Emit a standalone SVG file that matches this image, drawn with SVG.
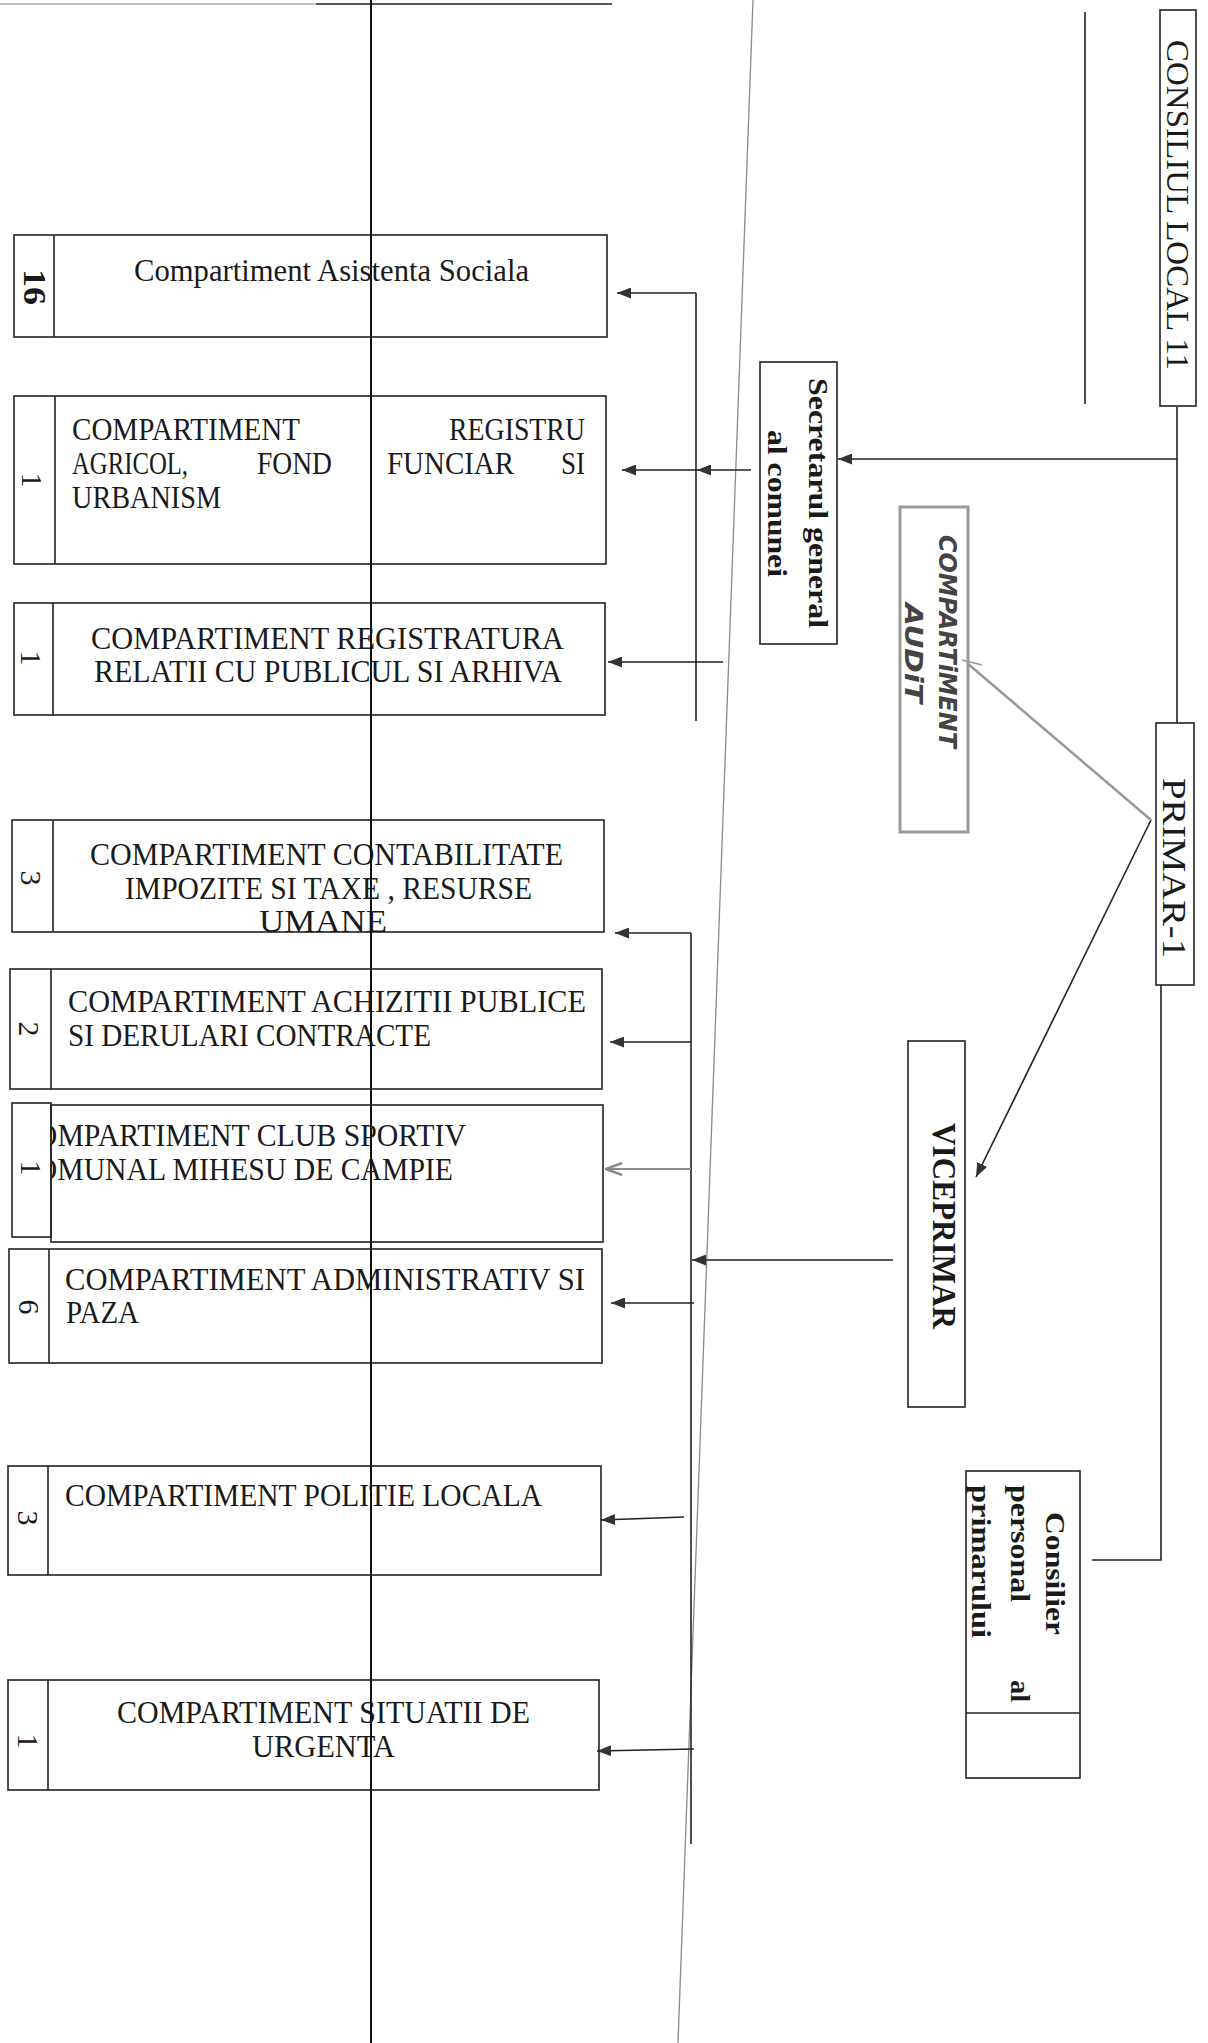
<svg xmlns="http://www.w3.org/2000/svg" width="1208" height="2043" viewBox="0 0 1208 2043">
<defs>
<style>
.box{fill:none;stroke:#222;stroke-width:1.6}
.ln{fill:none;stroke:#222;stroke-width:1.6}
.ht{font-family:"Liberation Serif","Times New Roman",serif;font-size:32px;fill:#1a1a1a}
.num{font-family:"Liberation Serif","Times New Roman",serif;font-size:30px;fill:#1a1a1a;text-anchor:middle}
.rt{font-family:"Liberation Serif","Times New Roman",serif;fill:#1a1a1a}
.rb{font-family:"Liberation Serif","Times New Roman",serif;font-weight:bold;fill:#1a1a1a}
.hand{font-family:"DejaVu Sans",sans-serif;font-weight:bold;font-style:italic;font-size:24px;fill:#444}
</style>
<marker id="ah" viewBox="0 0 14 11" refX="14" refY="5.5" markerWidth="14" markerHeight="11" orient="auto" markerUnits="userSpaceOnUse"><path d="M0,0 L14,5.5 L0,11 z" fill="#333"/></marker>
<marker id="ahg" viewBox="0 0 18 14" refX="17" refY="7" markerWidth="18" markerHeight="14" orient="auto" markerUnits="userSpaceOnUse"><path d="M1,1 L17,7 L1,13" fill="none" stroke="#8a8a8a" stroke-width="2.5"/></marker>
<clipPath id="clip6"><rect x="52" y="1105" width="551" height="137"/></clipPath>
</defs>
<rect width="1208" height="2043" fill="#fff"/>

<g id="background-lines">
<path d="M0,4 H316" stroke="#aaa" stroke-width="1.5" fill="none"/>
<path d="M316,4 H612" stroke="#222" stroke-width="1.6" fill="none"/>
<path d="M753,0 L678,2043" stroke="#8a8a8a" stroke-width="1.3" fill="none"/>
</g>

<g id="connectors">
<path class="ln" d="M1085,12 V404"/>
<path class="ln" d="M1177,407 V723"/>
<path class="ln" d="M1177,459 H838" marker-end="url(#ah)"/>
<path class="ln" d="M1161,985 V1560 H1092"/>
<path class="ln" d="M1151,820 L976,1177" marker-end="url(#ah)"/>
<path d="M1151,820 L967,663" stroke="#999" stroke-width="2.5" fill="none"/>
<path d="M962,660 L982,665" stroke="#999" stroke-width="1.5" fill="none"/>
<path class="ln" d="M893,1260 H692" marker-end="url(#ah)"/>
<path class="ln" d="M691,933 V1844"/>
<path class="ln" d="M691,933 H615" marker-end="url(#ah)"/>
<path class="ln" d="M691,1042 H610" marker-end="url(#ah)"/>
<path d="M691,1169 H606" stroke="#8a8a8a" stroke-width="2.2" fill="none" marker-end="url(#ahg)"/>
<path class="ln" d="M694,1303 H611" marker-end="url(#ah)"/>
<path class="ln" d="M684,1517 L601,1520" marker-end="url(#ah)"/>
<path class="ln" d="M694,1749 L597,1751" marker-end="url(#ah)"/>
<path class="ln" d="M696,293 V721"/>
<path class="ln" d="M696,293 H617" marker-end="url(#ah)"/>
<path class="ln" d="M751,470 H697" marker-end="url(#ah)"/>
<path class="ln" d="M697,470 H622" marker-end="url(#ah)"/>
<path class="ln" d="M723,662 H608" marker-end="url(#ah)"/>
</g>

<g id="consiliul-local">
<rect class="box" x="1160" y="10" width="36" height="396"/>
<text class="rt" font-size="31" transform="translate(1167,40) rotate(90)" textLength="330" lengthAdjust="spacingAndGlyphs">CONSILIUL LOCAL 11</text>
</g>

<g id="secretar">
<rect class="box" x="760" y="362" width="77" height="282"/>
<text class="rb" font-size="28" transform="translate(809,378) rotate(90)" textLength="250" lengthAdjust="spacingAndGlyphs">Secretarul general</text>
<text class="rb" font-size="28" transform="translate(768,430) rotate(90)" textLength="147" lengthAdjust="spacingAndGlyphs">al comunei</text>
</g>

<g id="audit">
<rect x="900" y="507" width="68" height="325" fill="none" stroke="#9a9a9a" stroke-width="3"/>
<text class="hand" transform="translate(939,535) rotate(90)" textLength="213" lengthAdjust="spacingAndGlyphs">COMPARTiMENT</text>
<text class="hand" transform="translate(905,603) rotate(90)" textLength="100" lengthAdjust="spacingAndGlyphs">AUDiT</text>
</g>

<g id="primar">
<rect class="box" x="1156" y="723" width="38" height="262"/>
<text class="rt" font-size="33" transform="translate(1163,778) rotate(90)" textLength="180" lengthAdjust="spacingAndGlyphs">PRIMAR-1</text>
</g>

<g id="viceprimar">
<rect class="box" x="908" y="1041" width="57" height="366"/>
<text class="rb" font-size="34" transform="translate(933,1123) rotate(90)" textLength="206" lengthAdjust="spacingAndGlyphs">VICEPRIMAR</text>
</g>

<g id="consilier">
<rect class="box" x="966" y="1471" width="114" height="307"/>
<path class="ln" d="M966,1713 H1080"/>
<text class="rb" font-size="27" transform="translate(1046,1512) rotate(90)" textLength="123" lengthAdjust="spacingAndGlyphs">Consilier</text>
<text class="rb" font-size="27" transform="translate(1011,1485) rotate(90)" textLength="117" lengthAdjust="spacingAndGlyphs">personal</text>
<text class="rb" font-size="27" transform="translate(1011,1680) rotate(90)" textLength="22" lengthAdjust="spacingAndGlyphs">al</text>
<text class="rb" font-size="27" transform="translate(972,1485) rotate(90)" textLength="153" lengthAdjust="spacingAndGlyphs">primarului</text>
</g>

<g id="asistenta-sociala">
<rect class="box" x="14" y="235" width="593" height="102"/>
<path class="ln" d="M54,235 V337"/>
<text class="ht" x="134" y="281" textLength="395" lengthAdjust="spacingAndGlyphs">Compartiment  Asistenta  Sociala</text>
<text class="rb" font-size="31" text-anchor="middle" transform="translate(24,287) rotate(90)" textLength="36" lengthAdjust="spacingAndGlyphs">16</text>
</g>

<g id="registru-agricol">
<rect class="box" x="14" y="396" width="592" height="168"/>
<path class="ln" d="M55,396 V564"/>
<text class="ht" x="72" y="440" textLength="228" lengthAdjust="spacingAndGlyphs">COMPARTIMENT</text>
<text class="ht" x="585" y="440" text-anchor="end" textLength="136" lengthAdjust="spacingAndGlyphs">REGISTRU</text>
<text class="ht" x="72" y="474" textLength="116" lengthAdjust="spacingAndGlyphs">AGRICOL,</text>
<text class="ht" x="257" y="474" textLength="75" lengthAdjust="spacingAndGlyphs">FOND</text>
<text class="ht" x="387" y="474" textLength="127" lengthAdjust="spacingAndGlyphs">FUNCIAR</text>
<text class="ht" x="561" y="474" textLength="24" lengthAdjust="spacingAndGlyphs">SI</text>
<text class="ht" x="72" y="508" textLength="149" lengthAdjust="spacingAndGlyphs">URBANISM</text>
<text class="num" transform="translate(22,480) rotate(90)">1</text>
</g>

<g id="registratura">
<rect class="box" x="14" y="603" width="591" height="112"/>
<path class="ln" d="M53,603 V715"/>
<text class="ht" x="91" y="649" textLength="473" lengthAdjust="spacingAndGlyphs">COMPARTIMENT  REGISTRATURA</text>
<text class="ht" x="94" y="682" textLength="468" lengthAdjust="spacingAndGlyphs">RELATII CU PUBLICUL SI ARHIVA</text>
<text class="num" transform="translate(21,658) rotate(90)">1</text>
</g>

<g id="contabilitate">
<rect class="box" x="12" y="820" width="592" height="112"/>
<path class="ln" d="M53,820 V932"/>
<text class="ht" x="90" y="865" textLength="473" lengthAdjust="spacingAndGlyphs">COMPARTIMENT CONTABILITATE</text>
<text class="ht" x="125" y="899" textLength="407" lengthAdjust="spacingAndGlyphs">IMPOZITE SI TAXE , RESURSE</text>
<text class="ht" x="259" y="932" textLength="128" lengthAdjust="spacingAndGlyphs">UMANE</text>
<text class="num" transform="translate(21,878) rotate(90)">3</text>
</g>

<g id="achizitii">
<rect class="box" x="10" y="969" width="592" height="120"/>
<path class="ln" d="M51,969 V1089"/>
<text class="ht" x="68" y="1012" textLength="518" lengthAdjust="spacingAndGlyphs">COMPARTIMENT ACHIZITII PUBLICE</text>
<text class="ht" x="68" y="1046" textLength="363" lengthAdjust="spacingAndGlyphs">SI DERULARI CONTRACTE</text>
<text class="num" transform="translate(19,1029) rotate(90)">2</text>
</g>

<g id="club-sportiv">
<rect class="box" x="12" y="1103" width="39" height="134"/>
<rect class="box" x="51" y="1105" width="552" height="137"/>
<g clip-path="url(#clip6)">
<text class="ht" x="16" y="1146" textLength="450" lengthAdjust="spacingAndGlyphs">COMPARTIMENT CLUB SPORTIV</text>
<text class="ht" x="16" y="1180" textLength="437" lengthAdjust="spacingAndGlyphs">COMUNAL MIHESU DE CAMPIE</text>
</g>
<text class="num" transform="translate(21,1168) rotate(90)">1</text>
</g>

<g id="administrativ">
<rect class="box" x="9" y="1249" width="593" height="114"/>
<path class="ln" d="M49,1249 V1363"/>
<text class="ht" x="65" y="1290" textLength="520" lengthAdjust="spacingAndGlyphs">COMPARTIMENT ADMINISTRATIV SI</text>
<text class="ht" x="66" y="1323" textLength="73" lengthAdjust="spacingAndGlyphs">PAZA</text>
<text class="num" transform="translate(19,1307) rotate(90)">6</text>
</g>

<g id="politie-locala">
<rect class="box" x="8" y="1466" width="593" height="109"/>
<path class="ln" d="M48,1466 V1575"/>
<text class="ht" x="65" y="1506" textLength="477" lengthAdjust="spacingAndGlyphs">COMPARTIMENT POLITIE LOCALA</text>
<text class="num" transform="translate(18,1518) rotate(90)">3</text>
</g>

<g id="situatii-urgenta">
<rect class="box" x="8" y="1680" width="591" height="110"/>
<path class="ln" d="M48,1680 V1790"/>
<text class="ht" x="117" y="1723" textLength="413" lengthAdjust="spacingAndGlyphs">COMPARTIMENT SITUATII DE</text>
<text class="ht" x="252" y="1757" textLength="143" lengthAdjust="spacingAndGlyphs">URGENTA</text>
<text class="num" transform="translate(18,1741) rotate(90)">1</text>
</g>

<g id="overlay-line">
<path d="M371,0 V2043" stroke="#111" stroke-width="2" fill="none"/>
</g>
</svg>
